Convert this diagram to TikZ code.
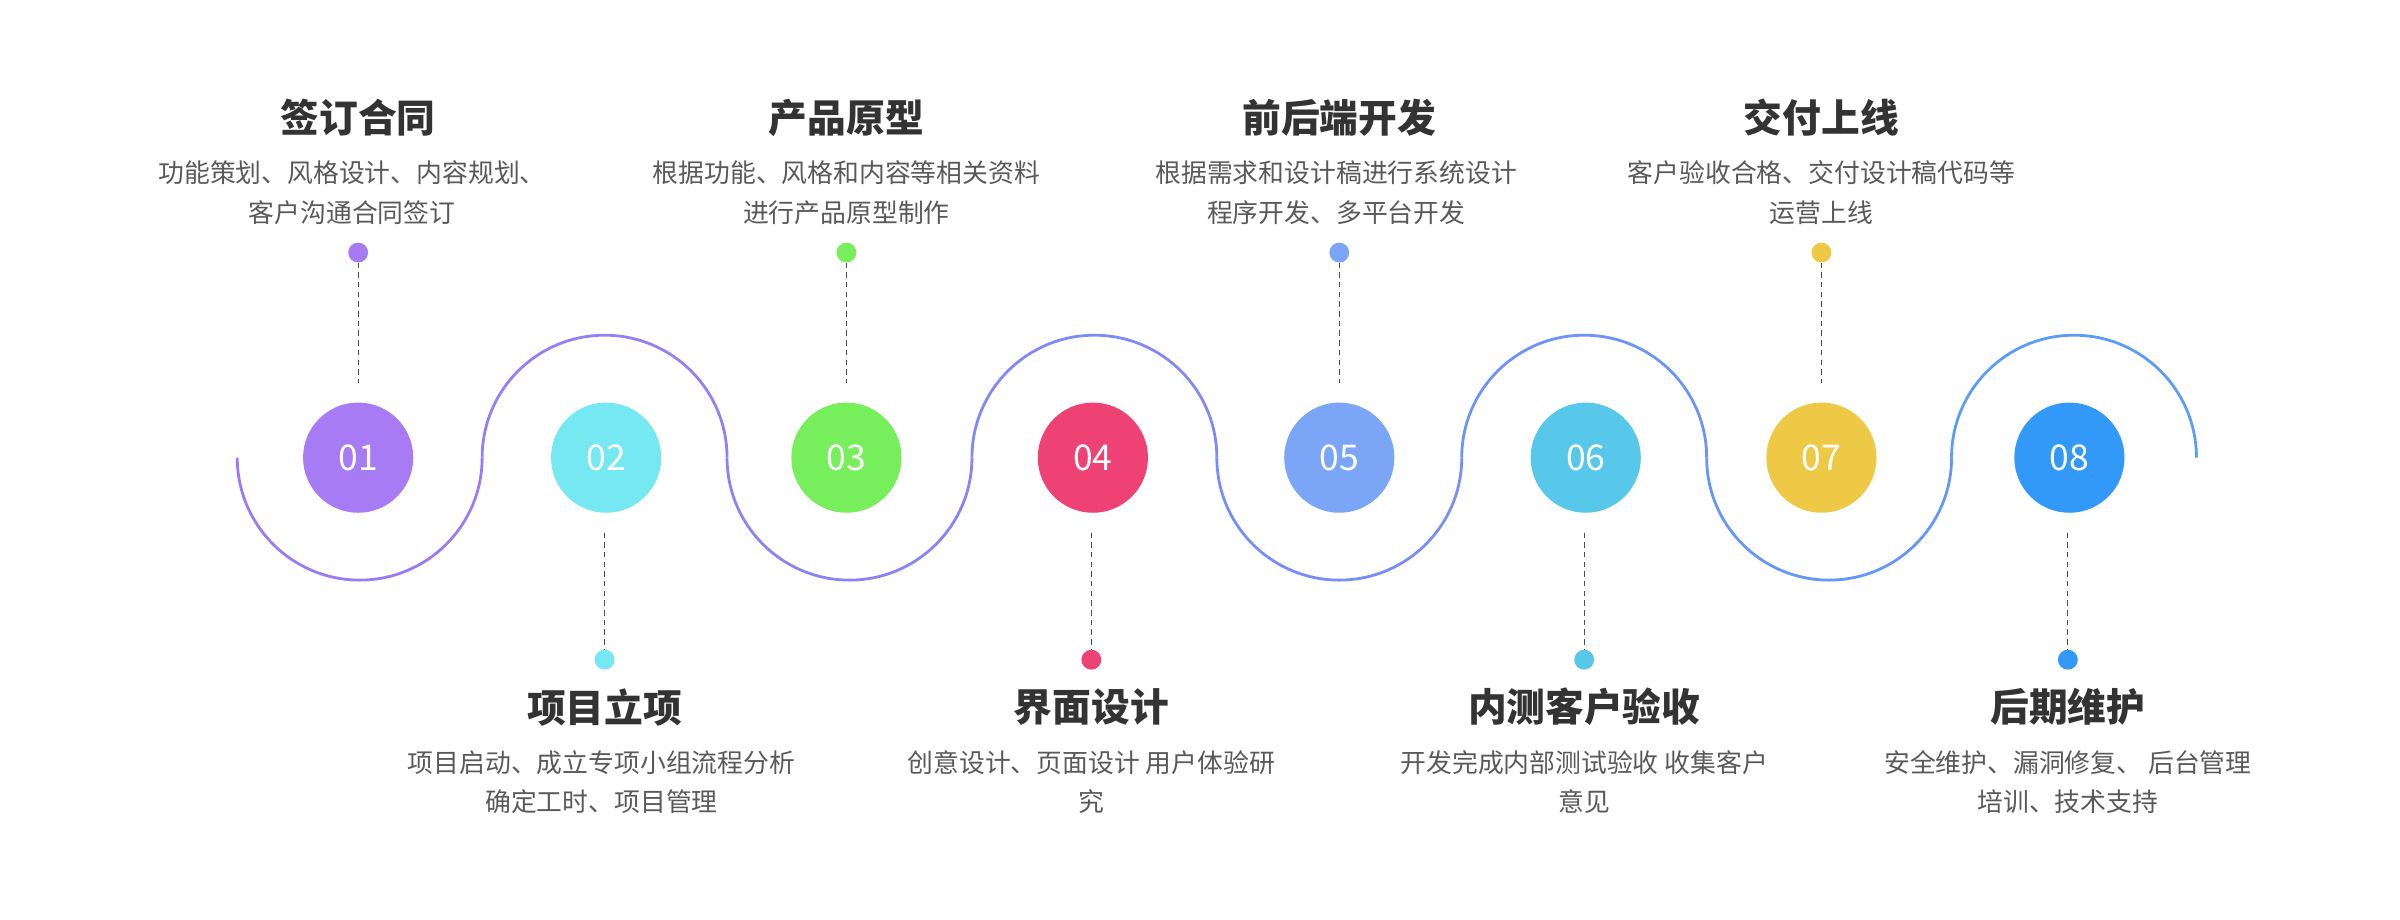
\documentclass[tikz,border=0pt]{standalone}
\usepackage{fontspec}
\newfontfamily\cjk{Noto Sans CJK SC}
\begin{document}
\begin{tikzpicture}[x=0.5mm,y=-0.5mm,
  num/.style={circle,minimum size=36mm,inner sep=0pt,text=white,font=\cjk\fontsize{33}{33}\selectfont},
  dotc/.style={circle,minimum size=6.5mm,inner sep=0pt},
  ttl/.style={font=\cjk\bfseries\fontsize{36}{36}\selectfont,text=black!80},
  dsc/.style={font=\cjk\fontsize{24}{24}\selectfont,text=black!65,align=center},
  dl/.style={dash pattern=on 5pt off 4pt,draw=black!70,line width=1pt}]
\useasboundingbox (0,0) rectangle (1568,601);
\definecolor{c1}{HTML}{A77BF3}\definecolor{c2}{HTML}{76E8F2}
\definecolor{c3}{HTML}{77EE5B}\definecolor{c4}{HTML}{EE4275}
\definecolor{c5}{HTML}{7BA5F7}\definecolor{c6}{HTML}{57C8EA}
\definecolor{c7}{HTML}{EEC946}\definecolor{c8}{HTML}{3399F8}
\definecolor{w1}{HTML}{9B7BF5}\definecolor{w8}{HTML}{5B9CF7}
% wave
\foreach \i/\cx in {0/235,1/395,2/555,3/715,4/875,5/1035,6/1195,7/1355}{
  \pgfmathsetmacro\p{100*\i/7}
  \colorlet{wc}{w8!\p!w1}
  \pgfmathtruncatemacro\odd{mod(\i,2)}
  \ifnum\odd=1
    \draw[wc,line width=2.6pt] (\cx-80,299) arc[start angle=180,end angle=360,x radius=40mm,y radius=-40mm];
  \else
    \draw[wc,line width=2.6pt] (\cx-80,299) arc[start angle=180,end angle=0,x radius=40mm,y radius=-40mm];
  \fi
}
\node[num,fill=c1] (n1) at (234,299) {01};
\node[num,fill=c2] (n2) at (396,299) {02};
\node[num,fill=c3] (n3) at (553,299) {03};
\node[num,fill=c4] (n4) at (714,299) {04};
\node[num,fill=c5] (n5) at (875,299) {05};
\node[num,fill=c6] (n6) at (1036,299) {06};
\node[num,fill=c7] (n7) at (1190,299) {07};
\node[num,fill=c8] (n8) at (1352,299) {08};
% upper
\node[dotc,fill=c1] (d1) at (234,165) {};
\node[dotc,fill=c3] (d3) at (553,165) {};
\node[dotc,fill=c5] (d5) at (875,165) {};
\node[dotc,fill=c7] (d7) at (1190,165) {};
\coordinate (e1) at (234,250);\coordinate (e3) at (553,250);
\coordinate (e5) at (875,250);\coordinate (e7) at (1190,250);
\foreach \k in {1,3,5,7}{\draw[dl] (d\k) -- (e\k);}
% lower
\node[dotc,fill=c2] (d2) at (395,431) {};
\node[dotc,fill=c4] (d4) at (713,431) {};
\node[dotc,fill=c6] (d6) at (1035,431) {};
\node[dotc,fill=c8] (d8) at (1351,431) {};
\coordinate (e2) at (395,348);\coordinate (e4) at (713,348);
\coordinate (e6) at (1035,348);\coordinate (e8) at (1351,348);
\foreach \k in {2,4,6,8}{\draw[dl] (e\k) -- (d\k);}
% texts upper
\node[ttl] (t1) at (234,77) {签订合同};
\node[dsc] (s1) at (230,126) {功能策划、风格设计、内容规划、\\[4.5mm]客户沟通合同签订};
\node[ttl] (t3) at (553,77) {产品原型};
\node[dsc] (s3) at (553,126) {根据功能、风格和内容等相关资料\\[4.5mm]进行产品原型制作};
\node[ttl] (t5) at (875,77) {前后端开发};
\node[dsc] (s5) at (873,126) {根据需求和设计稿进行系统设计\\[4.5mm]程序开发、多平台开发};
\node[ttl] (t7) at (1190,77) {交付上线};
\node[dsc] (s7) at (1190,126) {客户验收合格、交付设计稿代码等\\[4.5mm]运营上线};
% texts lower
\node[ttl] (t2) at (395,462) {项目立项};
\node[dsc] (s2) at (393,511) {项目启动、成立专项小组流程分析\\[4.5mm]确定工时、项目管理};
\node[ttl] (t4) at (713,462) {界面设计};
\node[dsc] (s4) at (713,511) {创意设计、页面设计 用户体验研\\[4.5mm]究};
\node[ttl] (t6) at (1035,462) {内测客户验收};
\node[dsc] (s6) at (1035,511) {开发完成内部测试验收 收集客户\\[4.5mm]意见};
\node[ttl] (t8) at (1351,462) {后期维护};
\node[dsc] (s8) at (1351,511) {安全维护、漏洞修复、 后台管理\\[4.5mm]培训、技术支持};
\end{tikzpicture}
\end{document}
